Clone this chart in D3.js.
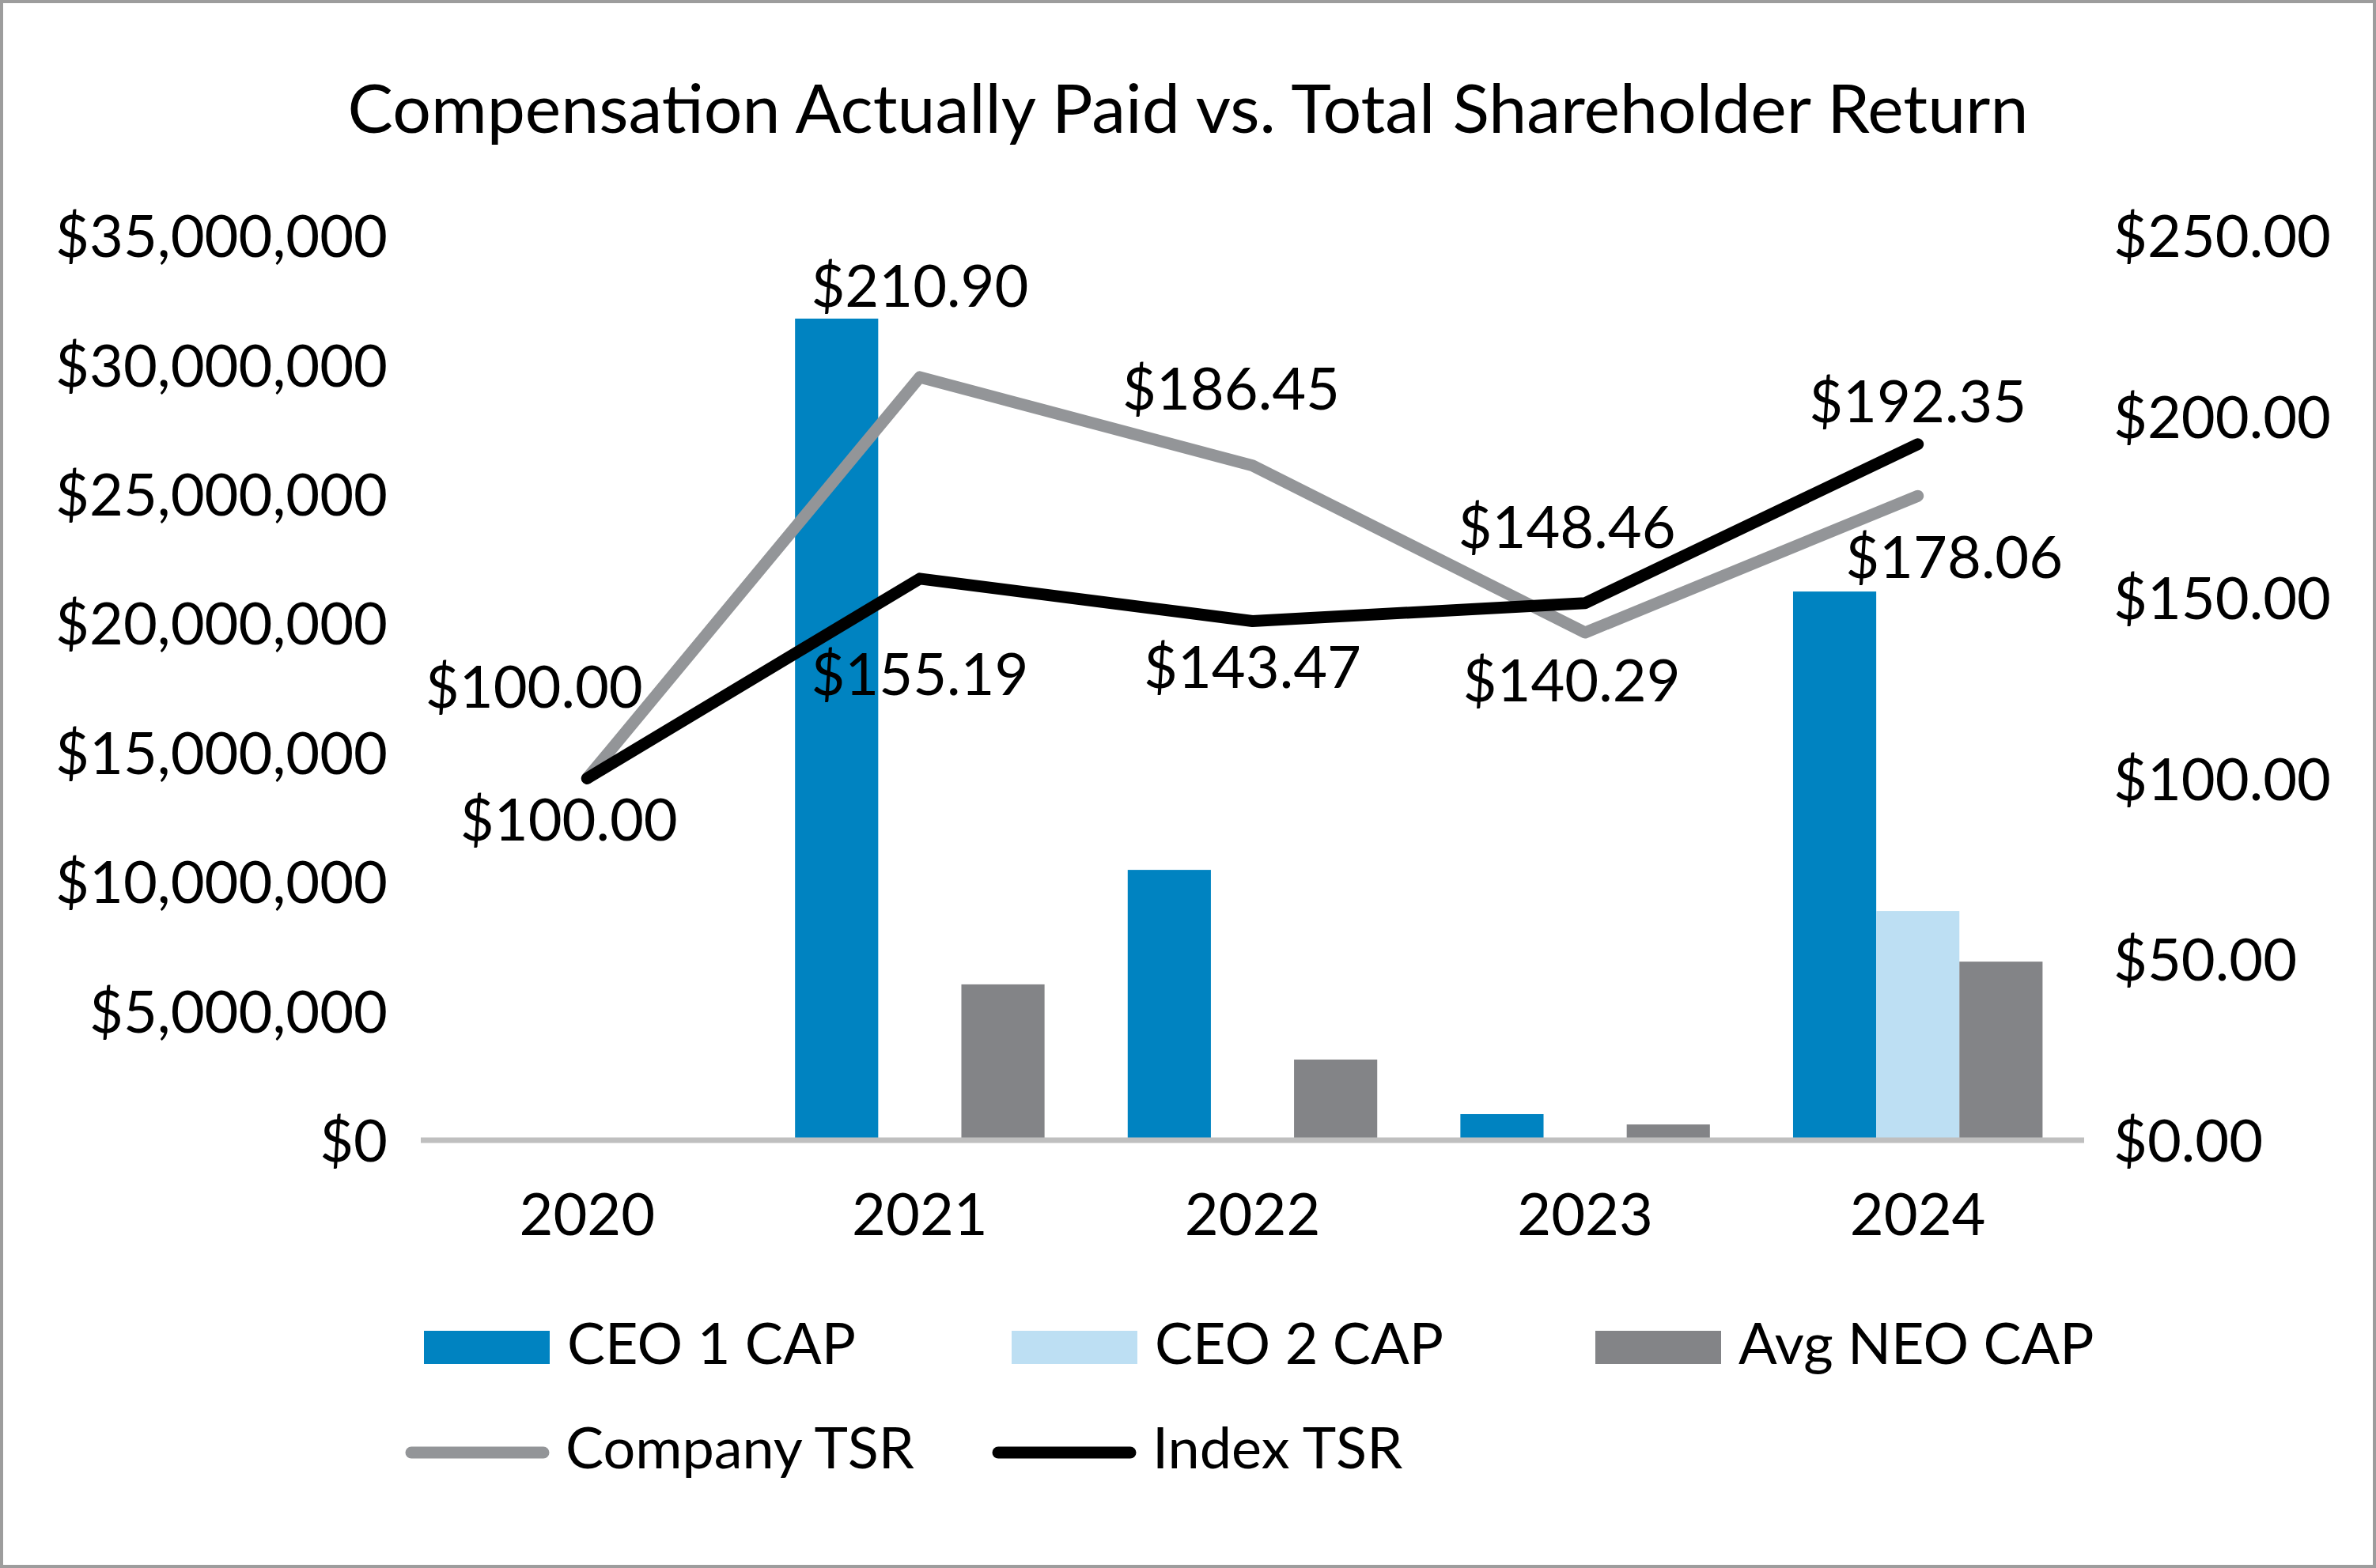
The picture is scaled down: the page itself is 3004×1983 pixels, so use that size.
<!DOCTYPE html>
<html>
<head>
<meta charset="utf-8">
<script src="https://cdn.jsdelivr.net/npm/d3@7"></script>
<style>
  html, body { margin: 0; padding: 0; background: #fff; }
  svg text { font-family: Lato, "Open Sans", sans-serif; fill: #000; }
</style>
</head>
<body>
<div id="chart"></div>
<script>
// data
const years = ["2020", "2021", "2022", "2023", "2024"];
const barSeries = ["CEO 1 CAP", "CEO 2 CAP", "Avg NEO CAP"];
const ceo1Cap = [0, 31790000, 10460000, 1010000, 21230000];
const ceo2Cap = [0, 0, 0, 0, 8870000];
const avgNeoCap = [0, 6030000, 3120000, 610000, 6910000];
const companyTsr = [100.00, 210.90, 186.45, 140.29, 178.06];
const indexTsr = [100.00, 155.19, 143.47, 148.46, 192.35];
const leftTicks = [0, 5e6, 10e6, 15e6, 20e6, 25e6, 30e6, 35e6];
const rightTicks = [0, 50, 100, 150, 200, 250];

// label nudges (px from the point), labels were hand-placed in the source
const companyLabelNudge = [[-67, -89], [0, -89], [-27, -71], [-17, 87], [46, 104]];
const indexLabelNudge = [[-23, 79], [0, 147], [0, 85], [-23, -70], [0, -28]];

const W = 3004, H = 1983;
const colors = {
    "CEO 1 CAP": "#0083c1",
    "CEO 2 CAP": "#bddff3",
    "Avg NEO CAP": "#838487",
    "Company TSR": "#939598",
    "Index TSR": "#000000"
};
const numSize = 74;
const legendSize = 72;

const svg = d3.select("#chart").append("svg")
    .attr("width", W)
    .attr("height", H);

svg.append("rect")
    .attr("x", 2).attr("y", 2)
    .attr("width", W - 4).attr("height", H - 4)
    .attr("fill", "#fff")
    .attr("stroke", "#9d9d9d")
    .attr("stroke-width", 4);

svg.append("text")
    .attr("x", 1502).attr("y", 168)
    .attr("text-anchor", "middle")
    .style("font-size", "86px")
    .text("Compensation Actually Paid vs. Total Shareholder Return");

const x0 = d3.scaleBand().domain(years).range([532, 2635]);
const bw = x0.bandwidth();
const x1 = d3.scaleBand().domain(barSeries).range([bw * 0.125, bw * 0.875]);
const yL = d3.scaleLinear().domain([0, 35e6]).range([1442, 298]);
const yR = d3.scaleLinear().domain([0, 250]).range([1442, 298]);

// axes
const leftAxis = d3.axisLeft(yL).tickValues(leftTicks).tickSize(0).tickPadding(0)
    .tickFormat(d3.format("$,.0f"));
const gl = svg.append("g").attr("transform", "translate(490,0)").call(leftAxis);

const rightAxis = d3.axisRight(yR).tickValues(rightTicks).tickSize(0).tickPadding(0)
    .tickFormat(d3.format("$.2f"));
const gr = svg.append("g").attr("transform", "translate(2672,0)").call(rightAxis);

const bottomAxis = d3.axisBottom(x0).tickSize(0).tickPadding(0);
const gb = svg.append("g").attr("transform", "translate(0,1442)").call(bottomAxis);

[gl, gr, gb].forEach(g => {
    g.select(".domain").remove();
    g.selectAll("text")
        .style("font-size", numSize + "px")
        .style("font-family", "Lato")
        .attr("fill", "#000");
});
gl.selectAll("text").attr("dy", "0.36em");
gr.selectAll("text").attr("dy", "0.36em");
gb.selectAll("text").attr("y", 120).attr("dy", 0);

// bars
const barRows = years.map((yr, i) => ({
    year: yr,
    values: [
        { key: "CEO 1 CAP", value: ceo1Cap[i] },
        { key: "CEO 2 CAP", value: ceo2Cap[i] },
        { key: "Avg NEO CAP", value: avgNeoCap[i] }
    ]
}));

svg.append("g").selectAll("g")
    .data(barRows)
    .join("g")
    .attr("transform", d => `translate(${x0(d.year)},0)`)
    .selectAll("rect")
    .data(d => d.values.filter(v => v.value > 0))
    .join("rect")
    .attr("x", d => x1(d.key))
    .attr("width", x1.bandwidth())
    .attr("y", d => yL(d.value))
    .attr("height", d => yL(0) - yL(d.value))
    .attr("fill", d => colors[d.key]);

// category axis line
svg.append("line")
    .attr("x1", 532).attr("x2", 2635)
    .attr("y1", yL(0)).attr("y2", yL(0))
    .attr("stroke", "#bfbfbf")
    .attr("stroke-width", 7);

// TSR lines
const line = d3.line()
    .x((d, i) => x0(years[i]) + bw / 2)
    .y(d => yR(d));

const lineSeries = [
    { name: "Company TSR", values: companyTsr, nudge: companyLabelNudge },
    { name: "Index TSR", values: indexTsr, nudge: indexLabelNudge }
];

lineSeries.forEach(s => {
    svg.append("path")
        .datum(s.values)
        .attr("d", line)
        .attr("fill", "none")
        .attr("stroke", colors[s.name])
        .attr("stroke-width", 15)
        .attr("stroke-linecap", "round")
        .attr("stroke-linejoin", "round");
});

lineSeries.forEach(s => {
    svg.append("g").selectAll("text")
        .data(s.values)
        .join("text")
        .attr("x", (d, i) => x0(years[i]) + bw / 2 + s.nudge[i][0])
        .attr("y", (d, i) => yR(d) + s.nudge[i][1])
        .attr("text-anchor", "middle")
        .style("font-size", numSize + "px")
        .text(d => d3.format("$.2f")(d));
});

// legend
const legend = svg.append("g");
const barCols = [536, 1279, 2017];
barSeries.forEach((name, i) => {
    legend.append("rect")
        .attr("x", barCols[i]).attr("y", 1683)
        .attr("width", 159).attr("height", 42)
        .attr("fill", colors[name]);
    legend.append("text")
        .attr("x", barCols[i] + 181).attr("y", 1725)
        .style("font-size", legendSize + "px")
        .text(name);
});
const lineCols = [520, 1262];
lineSeries.forEach((s, i) => {
    legend.append("line")
        .attr("x1", lineCols[i]).attr("x2", lineCols[i] + 167)
        .attr("y1", 1837).attr("y2", 1837)
        .attr("stroke", colors[s.name])
        .attr("stroke-width", 15)
        .attr("stroke-linecap", "round");
    legend.append("text")
        .attr("x", lineCols[i] + 195).attr("y", 1857)
        .style("font-size", legendSize + "px")
        .text(s.name);
});
</script>
</body>
</html>
